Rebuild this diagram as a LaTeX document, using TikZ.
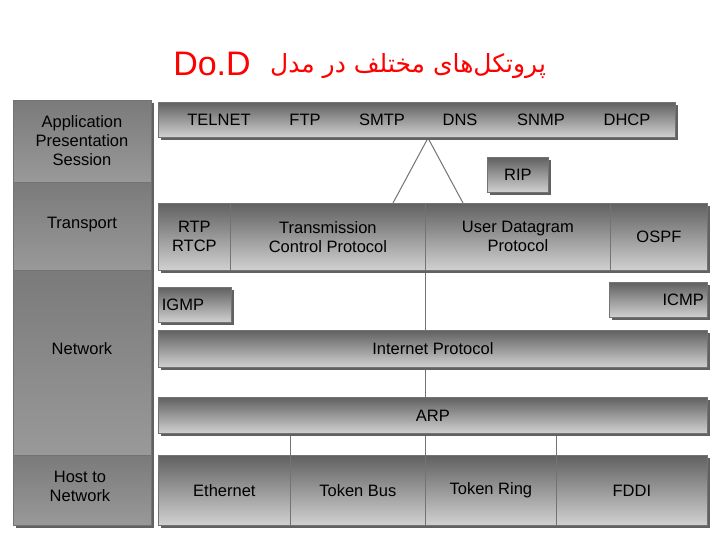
\documentclass[tikz,border=0pt]{standalone}
\usepackage{fontspec}
\setmainfont{Liberation Sans}
\newfontfamily\arabicfont[Script=Arabic]{DejaVu Sans}
\TeXXeTstate=1
\begin{document}
\begin{tikzpicture}[x=1pt,y=-1pt,
  fnt/.style={font=\fontsize{16.5}{19}\selectfont},
  box/.style={draw=black!55, line width=0.8pt, top color=black!62, bottom color=black!18,
    anchor=north west, inner sep=1pt, align=center, fnt,
    preaction={fill=black!62, transform canvas={shift={(3pt,-3pt)}}}},
  side/.style={draw=black!55, line width=0.8pt, top color=black!52, bottom color=black!40, anchor=north west,
    align=center, inner sep=1pt,
    preaction={fill=black!62, transform canvas={shift={(3pt,-3pt)}}}},
  ln/.style={draw=black!55, line width=1pt}]
\useasboundingbox (0,0) rectangle (720,540);
\node[text=red, font=\fontsize{34}{36}\selectfont] (t1) at (212,64) {Do.D};
\node[text=red, font=\arabicfont\fontsize{25}{28}\selectfont] (t2) at (408,66) {\beginR پروتکل‌های مختلف در مدل\endR};
% left column
\node[side, minimum width=138, minimum height=82] (app) at (13,100) {};
\node[side, minimum width=138, minimum height=88] (tr) at (13,182) {};
\node[side, minimum width=138, minimum height=185] (net) at (13,270) {};
\node[side, minimum width=138, minimum height=70] (h2n) at (13,455) {};
\node[fnt, align=center] (appt) at (82,141) {Application\\Presentation\\Session};
\node[fnt] (trt) at (82,225) {Transport};
\node[fnt] (nett) at (82,349) {Network};
\node[fnt, align=center] (h2nt) at (80,486) {Host to\\Network};
% connectors
\coordinate (apex) at (428,138);
\draw[ln] (apex) -- (393,203);
\draw[ln] (apex) -- (463,203);
\draw[ln] (425,270) -- (425,330);
\draw[ln] (425,367) -- (425,397);
\draw[ln] (290,433) -- (290,455);
\draw[ln] (425,433) -- (425,455);
\draw[ln] (556,433) -- (556,455);
% top
\node[box, minimum width=517, minimum height=35] (apps) at (158,102) {};
\foreach \t/\x in {TELNET/219, FTP/305, SMTP/382, DNS/460, SNMP/541, DHCP/627}
  \node[fnt] (n\t) at (\x,120) {\t};
\node[box, minimum width=61, minimum height=35] (rip) at (487,157) {RIP};
% transport
\node[box, minimum width=72, minimum height=67] (rtp) at (158,203) {RTP\\RTCP};
\node[box, minimum width=195, minimum height=67] (tcp) at (230,203) {Transmission\\Control Protocol};
\node[box, minimum width=185, minimum height=67] (udp) at (425,203) {User Datagram\\Protocol};
\node[box, minimum width=97, minimum height=67] (ospf) at (610,203) {OSPF};
\node[box, minimum width=73, minimum height=35, align=left, text width=66] (igmp) at (158,287) {IGMP};
\node[box, minimum width=98, minimum height=35, align=right, text width=91] (icmp) at (609,282) {ICMP};
\node[box, minimum width=549, minimum height=37] (ip) at (158,330) {Internet Protocol};
\node[box, minimum width=549, minimum height=36] (arp) at (158,397) {ARP};
\node[box, minimum width=132, minimum height=70] (eth) at (158,455) {Ethernet};
\node[box, minimum width=135, minimum height=70] (tb) at (290,455) {Token Bus};
\node[box, minimum width=131, minimum height=70] (tr2) at (425,455) {Token Ring};
\node[box, minimum width=151, minimum height=70] (fddi) at (556,455) {FDDI};
\end{tikzpicture}
\end{document}
